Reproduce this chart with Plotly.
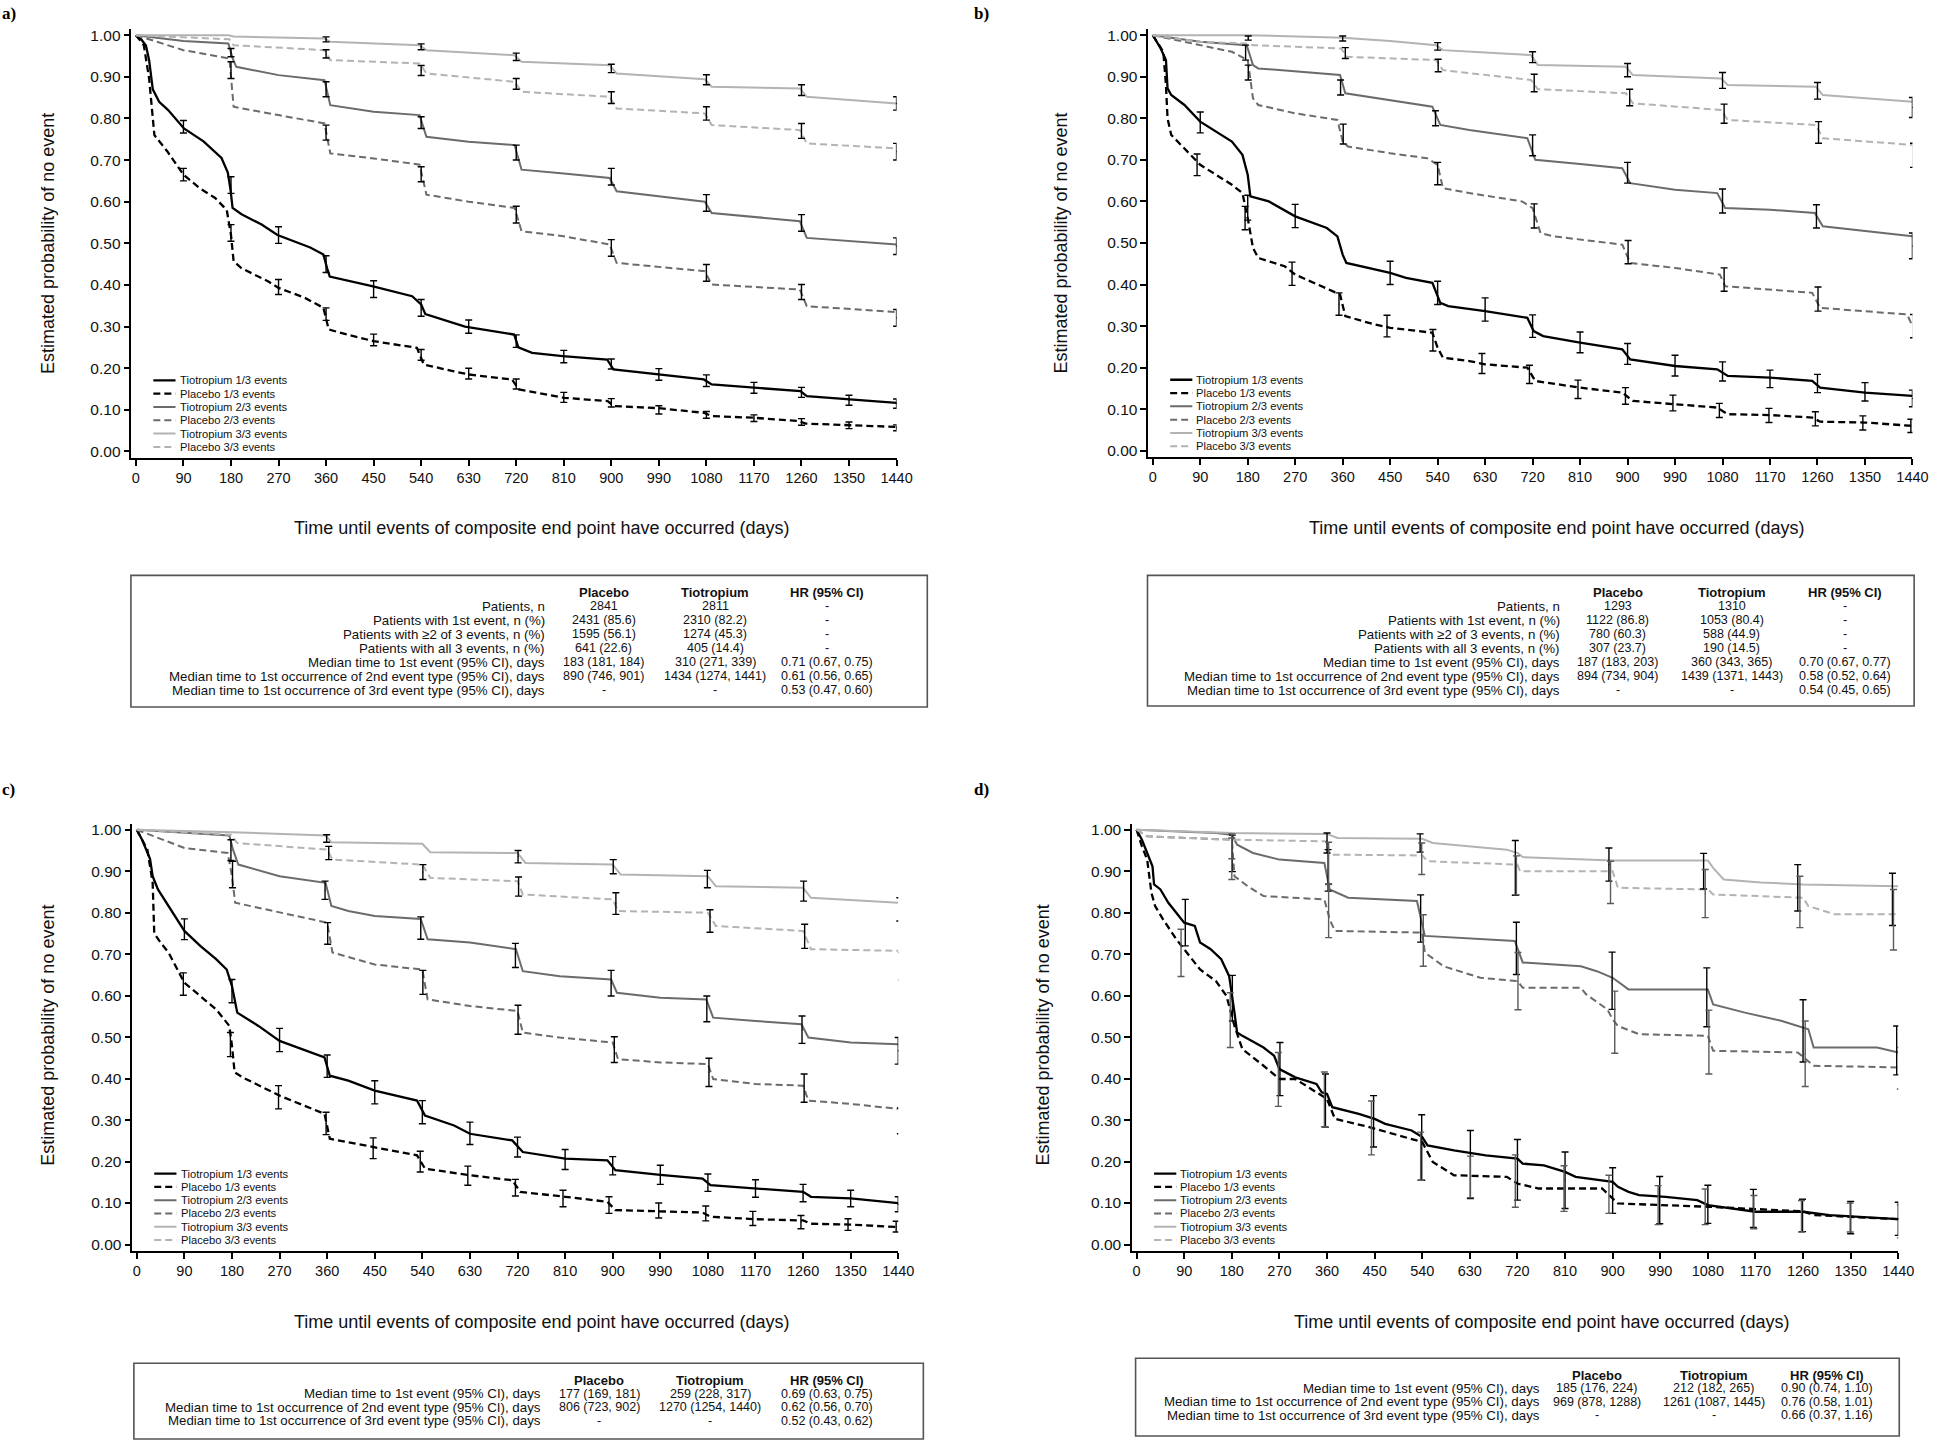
import plotly.graph_objects as go

# ---------------- DATA ----------------
# Kaplan-Meier style knots: (day, probability of no event)
a_tio1 = [(0,1.0),(10,0.99),(19,0.975),(25,0.94),(32,0.87),(44,0.84),(61,0.82),(91,0.776),(128,0.745),(162,0.705),(174,0.67),(179,0.63),(183,0.585),(200,0.57),(238,0.545),(268,0.52),(330,0.49),(355,0.473),(362,0.44),(367,0.42),(447,0.397),(523,0.373),(540,0.353),(548,0.33),(623,0.30),(716,0.281),(724,0.25),(750,0.237),(808,0.229),(892,0.221),(904,0.197),(990,0.185),(1075,0.173),(1090,0.161),(1170,0.153),(1258,0.145),(1270,0.133),(1350,0.125),(1440,0.117)]
a_pla1 = [(0,1.0),(15,0.976),(25,0.896),(30,0.824),(35,0.76),(45,0.744),(60,0.72),(90,0.665),(120,0.633),(150,0.609),(172,0.58),(180,0.52),(185,0.457),(200,0.44),(250,0.409),(270,0.393),(320,0.369),(355,0.345),(365,0.293),(400,0.281),(450,0.265),(532,0.249),(545,0.209),(600,0.193),(630,0.185),(712,0.173),(725,0.149),(810,0.129),(893,0.121),(905,0.109),(990,0.104),(1075,0.093),(1090,0.085),(1170,0.081),(1255,0.073),(1268,0.067),(1350,0.064),(1440,0.059)]
a_tio2 = [(0,1.0),(90,0.986),(175,0.98),(183,0.945),(190,0.924),(270,0.904),(357,0.892),(368,0.832),(450,0.816),(537,0.808),(550,0.756),(630,0.744),(717,0.736),(730,0.677),(810,0.668),(897,0.657),(910,0.625),(990,0.613),(1077,0.60),(1090,0.573),(1257,0.553),(1270,0.513),(1440,0.497)]
a_pla2 = [(0,1.0),(90,0.964),(177,0.944),(185,0.828),(270,0.808),(357,0.788),(368,0.716),(450,0.704),(537,0.689),(550,0.617),(630,0.60),(717,0.585),(730,0.529),(810,0.517),(897,0.497),(910,0.453),(1077,0.433),(1090,0.401),(1257,0.389),(1270,0.349),(1440,0.335)]
a_tio3 = [(0,1.0),(175,1.0),(185,0.997),(357,0.992),(368,0.984),(450,0.98),(537,0.976),(550,0.964),(717,0.952),(730,0.936),(897,0.928),(910,0.908),(1077,0.894),(1090,0.876),(1257,0.872),(1270,0.852),(1440,0.836)]
a_pla3 = [(0,1.0),(177,0.99),(185,0.976),(357,0.964),(368,0.94),(537,0.932),(550,0.908),(717,0.888),(730,0.864),(897,0.852),(910,0.824),(1077,0.812),(1090,0.784),(1257,0.772),(1270,0.74),(1440,0.728)]

b_tio1 = [(0,1.0),(15,0.968),(25,0.94),(28,0.872),(35,0.856),(60,0.832),(90,0.792),(110,0.776),(150,0.744),(170,0.712),(180,0.664),(185,0.612),(220,0.60),(270,0.564),(330,0.536),(350,0.516),(360,0.472),(367,0.452),(450,0.428),(480,0.416),(530,0.404),(545,0.356),(560,0.348),(630,0.336),(710,0.32),(722,0.288),(740,0.276),(810,0.26),(890,0.244),(905,0.22),(990,0.204),(1070,0.196),(1090,0.18),(1170,0.176),(1250,0.168),(1265,0.152),(1350,0.14),(1440,0.132)]
b_pla1 = [(0,1.0),(20,0.96),(25,0.88),(28,0.80),(35,0.76),(60,0.728),(90,0.688),(150,0.64),(170,0.62),(180,0.56),(190,0.488),(200,0.464),(250,0.444),(270,0.424),(340,0.384),(355,0.376),(365,0.324),(420,0.304),(450,0.296),(530,0.284),(540,0.248),(550,0.224),(600,0.216),(630,0.208),(710,0.20),(725,0.168),(810,0.152),(890,0.14),(910,0.12),(990,0.112),(1070,0.104),(1090,0.088),(1170,0.086),(1250,0.08),(1265,0.07),(1350,0.068),(1440,0.06)]
b_tio2 = [(0,1.0),(90,0.984),(178,0.976),(190,0.928),(200,0.92),(270,0.912),(355,0.904),(365,0.86),(450,0.844),(530,0.828),(545,0.784),(600,0.772),(710,0.752),(725,0.70),(810,0.69),(890,0.68),(905,0.644),(990,0.628),(1070,0.62),(1085,0.584),(1170,0.58),(1255,0.572),(1270,0.54),(1350,0.528),(1440,0.516)]
b_pla2 = [(0,1.0),(90,0.976),(150,0.96),(180,0.94),(190,0.848),(200,0.832),(270,0.812),(350,0.796),(360,0.744),(370,0.732),(450,0.716),(520,0.704),(540,0.688),(550,0.632),(600,0.62),(700,0.60),(720,0.584),(735,0.524),(760,0.516),(890,0.496),(905,0.452),(990,0.44),(1075,0.424),(1085,0.396),(1170,0.388),(1250,0.38),(1265,0.344),(1350,0.336),(1430,0.328),(1440,0.30)]
b_tio3 = [(0,1.0),(180,1.0),(360,0.994),(450,0.986),(537,0.976),(550,0.964),(630,0.958),(717,0.952),(730,0.928),(897,0.924),(910,0.904),(1077,0.896),(1090,0.88),(1257,0.876),(1270,0.856),(1440,0.84)]
b_pla3 = [(0,1.0),(90,0.984),(177,0.98),(190,0.976),(357,0.968),(368,0.948),(537,0.94),(550,0.916),(717,0.892),(730,0.87),(897,0.86),(910,0.836),(1077,0.82),(1090,0.796),(1257,0.784),(1270,0.752),(1440,0.736)]

c_tio1 = [(0,1.0),(10,0.976),(25,0.93),(30,0.888),(40,0.856),(60,0.816),(90,0.756),(120,0.72),(150,0.688),(170,0.663),(180,0.623),(190,0.559),(230,0.527),(270,0.491),(330,0.463),(355,0.451),(365,0.407),(400,0.395),(450,0.371),(530,0.347),(545,0.311),(600,0.287),(630,0.267),(710,0.251),(730,0.223),(810,0.207),(890,0.203),(905,0.179),(990,0.168),(1070,0.159),(1085,0.143),(1170,0.135),(1260,0.127),(1275,0.115),(1350,0.111),(1440,0.10)]
c_pla1 = [(0,1.0),(20,0.952),(30,0.872),(33,0.75),(45,0.728),(60,0.704),(90,0.631),(120,0.60),(150,0.567),(175,0.527),(180,0.479),(185,0.415),(200,0.403),(270,0.359),(355,0.315),(365,0.255),(450,0.235),(530,0.215),(545,0.183),(630,0.167),(710,0.155),(725,0.127),(810,0.115),(890,0.103),(905,0.083),(990,0.08),(1070,0.077),(1085,0.067),(1170,0.061),(1260,0.058),(1275,0.05),(1350,0.048),(1440,0.042)]
c_tio2 = [(0,1.0),(90,0.992),(175,0.986),(182,0.952),(192,0.916),(270,0.888),(357,0.872),(368,0.816),(400,0.804),(450,0.792),(537,0.785),(550,0.736),(630,0.728),(717,0.712),(730,0.659),(800,0.647),(897,0.639),(908,0.607),(990,0.595),(1077,0.591),(1090,0.547),(1170,0.539),(1257,0.531),(1270,0.499),(1350,0.487),(1440,0.483)]
c_pla2 = [(0,1.0),(90,0.956),(172,0.944),(180,0.888),(186,0.824),(270,0.80),(360,0.776),(370,0.704),(450,0.675),(540,0.663),(550,0.591),(630,0.575),(720,0.563),(730,0.511),(800,0.499),(900,0.487),(910,0.447),(990,0.439),(1080,0.435),(1090,0.399),(1170,0.387),(1260,0.383),(1270,0.347),(1350,0.339),(1440,0.327)]
c_tio3 = [(0,1.0),(180,0.994),(357,0.986),(368,0.97),(540,0.966),(555,0.946),(720,0.944),(735,0.92),(900,0.916),(915,0.892),(1080,0.888),(1095,0.864),(1260,0.86),(1275,0.836),(1440,0.824)]
c_pla3 = [(0,1.0),(178,0.988),(190,0.968),(360,0.952),(370,0.928),(540,0.916),(555,0.884),(720,0.876),(730,0.844),(900,0.832),(910,0.804),(1080,0.80),(1095,0.768),(1260,0.756),(1275,0.712),(1440,0.708)]

d_tio1 = [(0,1.0),(10,0.976),(20,0.944),(30,0.912),(33,0.868),(45,0.856),(60,0.824),(75,0.80),(90,0.776),(110,0.768),(120,0.728),(140,0.712),(160,0.688),(175,0.647),(180,0.607),(185,0.559),(190,0.511),(200,0.503),(240,0.475),(260,0.455),(270,0.423),(300,0.403),(340,0.387),(350,0.367),(360,0.363),(370,0.331),(420,0.315),(450,0.303),(470,0.291),(520,0.275),(540,0.259),(550,0.239),(600,0.227),(660,0.215),(720,0.207),(730,0.195),(770,0.191),(810,0.175),(830,0.163),(900,0.151),(910,0.139),(930,0.127),(950,0.119),(1000,0.115),(1060,0.107),(1080,0.095),(1170,0.079),(1260,0.079),(1310,0.071),(1400,0.064),(1440,0.061)]
d_pla1 = [(0,1.0),(10,0.96),(20,0.928),(28,0.848),(35,0.816),(50,0.784),(75,0.736),(90,0.712),(120,0.663),(150,0.635),(170,0.599),(185,0.527),(200,0.471),(240,0.431),(270,0.399),(300,0.399),(360,0.351),(375,0.303),(440,0.283),(540,0.247),(560,0.199),(600,0.167),(700,0.163),(720,0.147),(760,0.135),(880,0.135),(900,0.111),(910,0.099),(1080,0.091),(1260,0.08),(1280,0.071),(1440,0.061)]
d_tio2 = [(0,1.0),(150,0.992),(180,0.988),(190,0.964),(220,0.944),(270,0.928),(355,0.92),(365,0.856),(400,0.836),(530,0.828),(545,0.744),(715,0.732),(730,0.68),(840,0.671),(870,0.659),(900,0.643),(930,0.615),(1080,0.615),(1090,0.579),(1150,0.559),(1220,0.539),(1270,0.519),(1280,0.475),(1400,0.475),(1440,0.463)]
d_pla2 = [(0,1.0),(20,0.984),(180,0.976),(185,0.888),(210,0.864),(240,0.84),(355,0.832),(365,0.784),(375,0.756),(540,0.752),(545,0.704),(580,0.671),(650,0.643),(720,0.635),(730,0.619),(840,0.619),(850,0.603),(890,0.567),(900,0.543),(910,0.527),(950,0.507),(1080,0.503),(1090,0.467),(1250,0.463),(1280,0.431),(1440,0.427)]
d_tio3 = [(0,1.0),(180,0.992),(360,0.99),(380,0.98),(540,0.978),(560,0.968),(700,0.952),(720,0.944),(730,0.934),(900,0.926),(1080,0.926),(1090,0.908),(1110,0.88),(1180,0.873),(1260,0.868),(1440,0.864)]
d_pla3 = [(0,1.0),(20,0.984),(180,0.976),(360,0.972),(365,0.94),(540,0.938),(550,0.924),(720,0.916),(725,0.90),(900,0.90),(910,0.86),(1080,0.856),(1090,0.844),(1260,0.836),(1270,0.816),(1300,0.804),(1320,0.796),(1440,0.796)]

# Error bars: (day, centre, half-width of 95% CI)
a_tio1_eb = [(90,.78,.015),(180,.64,.02),(270,.52,.02),(360,.45,.02),(450,.39,.02),(540,.345,.02),(630,.30,.016),(720,.265,.015),(810,.228,.015),(900,.21,.012),(990,.185,.014),(1080,.17,.014),(1170,.153,.013),(1260,.142,.012),(1350,.123,.012),(1440,.115,.011)]
a_pla1_eb = [(90,.665,.015),(180,.525,.02),(270,.395,.018),(360,.33,.015),(450,.268,.014),(540,.232,.013),(630,.187,.013),(720,.162,.012),(810,.13,.012),(900,.117,.01),(990,.1,.01),(1080,.088,.008),(1170,.08,.008),(1260,.071,.008),(1350,.063,.008),(1440,.057,.007)]
a_tio2_eb = [(180,.958,.01),(360,.87,.018),(540,.79,.014),(720,.718,.018),(900,.66,.02),(1080,.597,.02),(1260,.549,.02),(1440,.493,.02)]
a_pla2_eb = [(180,.916,.02),(360,.766,.018),(540,.666,.018),(720,.569,.02),(900,.489,.02),(1080,.429,.02),(1260,.383,.018),(1440,.321,.02)]
a_tio3_eb = [(360,.99,.006),(540,.972,.007),(720,.948,.009),(900,.92,.01),(1080,.893,.012),(1260,.868,.013),(1440,.836,.016)]
a_pla3_eb = [(360,.955,.01),(540,.915,.012),(720,.883,.013),(900,.85,.014),(1080,.812,.016),(1260,.77,.018),(1440,.72,.02)]

b_tio1_eb = [(90,.79,.025),(180,.585,.03),(270,.565,.028),(450,.428,.028),(540,.38,.028),(630,.34,.028),(720,.30,.027),(810,.261,.025),(900,.233,.025),(990,.205,.025),(1080,.191,.023),(1170,.173,.021),(1260,.162,.022),(1350,.142,.022),(1440,.126,.02)]
b_pla1_eb = [(84,.688,.026),(175,.56,.028),(264,.426,.028),(353,.353,.027),(444,.30,.026),(531,.266,.026),(624,.21,.024),(714,.184,.022),(806,.148,.022),(896,.132,.02),(986,.115,.019),(1074,.097,.017),(1168,.085,.017),(1256,.077,.017),(1346,.067,.017),(1437,.06,.016)]
b_tio2_eb = [(176,.958,.018),(356,.874,.018),(536,.80,.018),(720,.735,.025),(900,.669,.025),(1080,.601,.029),(1258,.564,.028),(1440,.493,.031)]
b_pla2_eb = [(181,.91,.018),(361,.762,.024),(540,.667,.027),(723,.565,.029),(901,.478,.028),(1083,.412,.028),(1261,.365,.029),(1442,.30,.028)]
b_tio3_eb = [(181,.993,.005),(360,.992,.006),(540,.973,.009),(720,.947,.013),(900,.916,.016),(1080,.891,.019),(1260,.866,.02),(1440,.826,.024)]
b_pla3_eb = [(365,.957,.013),(541,.927,.015),(723,.885,.021),(904,.85,.02),(1083,.811,.023),(1262,.766,.026),(1442,.711,.029)]

c_tio1_eb = [(90,.76,.025),(180,.611,.028),(270,.493,.028),(360,.43,.027),(450,.367,.028),(540,.319,.028),(630,.268,.027),(720,.235,.024),(810,.205,.024),(900,.19,.022),(990,.168,.023),(1080,.149,.021),(1170,.135,.021),(1260,.124,.021),(1350,.111,.02),(1440,.097,.018)]
c_pla1_eb = [(88,.628,.027),(177,.482,.029),(268,.355,.028),(358,.292,.027),(447,.232,.025),(536,.2,.025),(626,.166,.023),(716,.137,.02),(806,.111,.02),(893,.095,.02),(987,.082,.018),(1076,.075,.018),(1165,.063,.017),(1256,.054,.016),(1345,.048,.014),(1436,.043,.013)]
c_tio2_eb = [(178,.951,.025),(356,.854,.022),(537,.763,.027),(716,.697,.029),(897,.63,.031),(1078,.568,.031),(1258,.518,.033),(1440,.467,.032)]
c_pla2_eb = [(181,.892,.032),(361,.75,.026),(541,.632,.029),(721,.542,.035),(903,.47,.031),(1082,.415,.034),(1262,.377,.034),(1444,.298,.031)]
c_tio3_eb = [(359,.979,.009),(721,.935,.015),(901,.911,.017),(1079,.881,.021),(1261,.852,.024),(1443,.808,.028)]
c_pla3_eb = [(363,.944,.016),(541,.898,.018),(722,.863,.023),(906,.822,.026),(1084,.78,.027),(1263,.743,.029),(1446,.671,.033)]

d_tio1_eb = [(92,.776,.056),(181,.594,.055),(271,.423,.064),(357,.347,.064),(448,.297,.062),(539,.234,.079),(631,.193,.082),(720,.18,.073),(810,.155,.068),(900,.13,.055),(989,.107,.057),(1080,.097,.046),(1166,.087,.046),(1259,.07,.039),(1350,.065,.039),(1440,.062,.04)]
d_pla1_eb = [(84,.703,.057),(177,.541,.066),(268,.398,.065),(355,.35,.066),(444,.281,.065),(537,.213,.058),(631,.163,.05),(716,.153,.063),(808,.135,.055),(893,.121,.046),(986,.095,.047),(1075,.091,.043),(1167,.078,.04),(1257,.068,.038),(1349,.065,.035),(1444,.056,.04)]
d_tio2_eb = [(181,.943,.044),(362,.902,.05),(537,.786,.057),(718,.714,.063),(899,.636,.069),(1078,.596,.071),(1260,.515,.075),(1437,.468,.059)]
d_pla2_eb = [(180,.93,.05),(363,.804,.064),(542,.733,.062),(721,.635,.069),(904,.536,.075),(1082,.488,.077),(1264,.46,.079),(1444,.425,.05)]
d_tio3_eb = [(360,.968,.024),(536,.968,.022),(716,.908,.066),(893,.916,.04),(1072,.9,.043),(1250,.86,.056),(1429,.832,.063)]
d_pla3_eb = [(180,.96,.03),(363,.92,.05),(539,.93,.038),(718,.89,.047),(896,.873,.051),(1075,.846,.058),(1254,.826,.062),(1431,.783,.073)]

series_names = ["Tiotropium 1/3 events", "Placebo 1/3 events", "Tiotropium 2/3 events",
                "Placebo 2/3 events", "Tiotropium 3/3 events", "Placebo 3/3 events"]
x_ticks = [0, 90, 180, 270, 360, 450, 540, 630, 720, 810, 900, 990, 1080, 1170, 1260, 1350, 1440]
y_ticks = [0.0, 0.1, 0.2, 0.3, 0.4, 0.5, 0.6, 0.7, 0.8, 0.9, 1.0]
panel_labels = ["a)", "b)", "c)", "d)"]
x_title = "Time until events of composite end point have occurred (days)"
y_title = "Estimated probability of no event"

# Tables
col_headers = ["Placebo", "Tiotropium", "HR (95% CI)"]
ab_row_labels = ["Patients, n", "Patients with 1st event, n (%)", "Patients with ≥2 of 3 events, n (%)",
                 "Patients with all 3 events, n (%)", "Median time to 1st event (95% CI), days",
                 "Median time to 1st occurrence of 2nd event type (95% CI), days",
                 "Median time to 1st occurrence of 3rd event type (95% CI), days"]
cd_row_labels = ["Median time to 1st event (95% CI), days",
                 "Median time to 1st occurrence of 2nd event type (95% CI), days",
                 "Median time to 1st occurrence of 3rd event type (95% CI), days"]
a_placebo = ["2841", "2431 (85.6)", "1595 (56.1)", "641 (22.6)", "183 (181, 184)", "890 (746, 901)", "-"]
a_tiotropium = ["2811", "2310 (82.2)", "1274 (45.3)", "405 (14.4)", "310 (271, 339)", "1434 (1274, 1441)", "-"]
a_hr = ["-", "-", "-", "-", "0.71 (0.67, 0.75)", "0.61 (0.56, 0.65)", "0.53 (0.47, 0.60)"]
b_placebo = ["1293", "1122 (86.8)", "780 (60.3)", "307 (23.7)", "187 (183, 203)", "894 (734, 904)", "-"]
b_tiotropium = ["1310", "1053 (80.4)", "588 (44.9)", "190 (14.5)", "360 (343, 365)", "1439 (1371, 1443)", "-"]
b_hr = ["-", "-", "-", "-", "0.70 (0.67, 0.77)", "0.58 (0.52, 0.64)", "0.54 (0.45, 0.65)"]
c_placebo = ["177 (169, 181)", "806 (723, 902)", "-"]
c_tiotropium = ["259 (228, 317)", "1270 (1254, 1440)", "-"]
c_hr = ["0.69 (0.63, 0.75)", "0.62 (0.56, 0.70)", "0.52 (0.43, 0.62)"]
d_placebo = ["185 (176, 224)", "969 (878, 1288)", "-"]
d_tiotropium = ["212 (182, 265)", "1261 (1087, 1445)", "-"]
d_hr = ["0.90 (0.74, 1.10)", "0.76 (0.58, 1.01)", "0.66 (0.37, 1.16)"]

# ---------------- STYLE / LAYOUT ----------------
W, H = 1946, 1443
FONT = "Liberation Sans, Arial, Helvetica, sans-serif"
def px(x): return x / W
def py(y): return 1 - y / H

X_RANGE = [-8.5, 1440]
Y_RANGE = [-0.015, 1.015]

styles = [dict(color="#000000", width=2.3, dash="solid"),
          dict(color="#000000", width=2.3, dash="7px,4px"),
          dict(color="#6b6b6b", width=2.0, dash="solid"),
          dict(color="#6b6b6b", width=2.0, dash="7px,4px"),
          dict(color="#b3b3b3", width=2.0, dash="solid"),
          dict(color="#b3b3b3", width=2.0, dash="7px,4px")]

panels = [
    dict(curves=[a_tio1, a_pla1, a_tio2, a_pla2, a_tio3, a_pla3],
         ebs=[a_tio1_eb, a_pla1_eb, a_tio2_eb, a_pla2_eb, a_tio3_eb, a_pla3_eb],
         xdom=(132.5, 904), ydom=(27, 457), label=(0, 12), ytitle=(49, 242), xtitle=(546, 527),
         table=dict(box=(132, 575, 935, 707), rows=ab_row_labels, cols=[a_placebo, a_tiotropium, a_hr],
                    header_y=592, row_y0=606, dy=14, lab_x=552, col_x=[609, 721, 834])),
    dict(curves=[b_tio1, b_pla1, b_tio2, b_pla2, b_tio3, b_pla3],
         ebs=[b_tio1_eb, b_pla1_eb, b_tio2_eb, b_pla2_eb, b_tio3_eb, b_pla3_eb],
         xdom=(1157.8, 1928.3), ydom=(27, 456.3), label=(980, 12), ytitle=(1070, 242), xtitle=(1570, 527),
         table=dict(box=(1157, 575, 1930, 706), rows=ab_row_labels, cols=[b_placebo, b_tiotropium, b_hr],
                    header_y=592, row_y0=606, dy=14, lab_x=1575, col_x=[1631, 1746, 1860])),
    dict(curves=[c_tio1, c_pla1, c_tio2, c_pla2, c_tio3, c_pla3],
         ebs=[c_tio1_eb, c_pla1_eb, c_tio2_eb, c_pla2_eb, c_tio3_eb, c_pla3_eb],
         xdom=(133.4, 905.7), ydom=(823.8, 1252.2), label=(0, 790), ytitle=(49, 1036), xtitle=(546, 1324),
         table=dict(box=(135, 1365, 931, 1441), rows=cd_row_labels, cols=[c_placebo, c_tiotropium, c_hr],
                    header_y=1382, row_y0=1395.5, dy=13.5, lab_x=548, col_x=[604, 716, 834])),
    dict(curves=[d_tio1, d_pla1, d_tio2, d_pla2, d_tio3, d_pla3],
         ebs=[d_tio1_eb, d_pla1_eb, d_tio2_eb, d_pla2_eb, d_tio3_eb, d_pla3_eb],
         xdom=(1141.5, 1914), ydom=(823.8, 1252.2), label=(980, 790), ytitle=(1052, 1036), xtitle=(1555, 1324),
         table=dict(box=(1145, 1360, 1915, 1438), rows=cd_row_labels, cols=[d_placebo, d_tiotropium, d_hr],
                    header_y=1377, row_y0=1390, dy=13.5, lab_x=1555, col_x=[1610, 1728, 1842])),
]

fig = go.Figure()
annotations = []
shapes = []
layout_axes = {}

for i, p in enumerate(panels):
    n = "" if i == 0 else str(i + 1)
    xa, ya = "x" + n, "y" + n
    for k, (curve, st) in enumerate(zip(p["curves"], styles)):
        fig.add_trace(go.Scatter(x=[t for t, _ in curve], y=[s for _, s in curve], mode="lines",
                                 line=dict(color=st["color"], width=st["width"], dash=st["dash"]),
                                 xaxis=xa, yaxis=ya, showlegend=False, hoverinfo="skip"))
    for k, eb in enumerate(p["ebs"]):
        ebcol = "#000000"
        if i == 3 and k % 2 == 1:
            ebcol = "#5a5a5a"
        fig.add_trace(go.Scatter(x=[t for t, _, _ in eb], y=[c for _, c, _ in eb], mode="markers",
                                 marker=dict(size=1, color=ebcol),
                                 error_y=dict(type="data", array=[h for _, _, h in eb], visible=True,
                                              color=ebcol, thickness=1.4, width=3.5),
                                 cliponaxis=False, xaxis=xa, yaxis=ya, showlegend=False, hoverinfo="skip"))
    axis_common = dict(showline=True, linecolor="#000000", linewidth=1.6, ticks="outside", ticklen=6,
                       tickwidth=1.5, tickcolor="#000000", showgrid=False, zeroline=False)
    layout_axes["xaxis" + n] = dict(axis_common, domain=[px(p["xdom"][0]), px(p["xdom"][1])],
                                    range=X_RANGE, tickvals=x_ticks, anchor=ya,
                                    tickfont=dict(family=FONT, size=14.5, color="#111111"))
    layout_axes["yaxis" + n] = dict(axis_common, domain=[py(p["ydom"][1]), py(p["ydom"][0])],
                                    range=Y_RANGE, tickvals=y_ticks, tickformat=".2f", anchor=xa,
                                    tickfont=dict(family=FONT, size=15.5, color="#111111"))

    # legend drawn inside the plot area
    for k, (name, st) in enumerate(zip(series_names, styles)):
        yy = 0.171 - k * 0.032
        shapes.append(dict(type="line", xref=xa, yref=ya, x0=33, x1=75, y0=yy, y1=yy,
                           line=dict(color=st["color"], width=st["width"], dash=st["dash"])))
        annotations.append(dict(text=name, xref=xa, yref=ya, x=79, y=yy, xanchor="left", yanchor="middle",
                                showarrow=False, font=dict(family=FONT, size=11.2, color="#111111")))

    # panel label
    annotations.append(dict(text="<b>" + panel_labels[i] + "</b>", xref="paper", yref="paper",
                            x=px(p["label"][0]), y=py(p["label"][1]), xanchor="left", yanchor="middle",
                            showarrow=False, font=dict(family="Liberation Serif, Times New Roman, serif",
                                                       size=17, color="#000000")))
    # axis titles
    annotations.append(dict(text=y_title, xref="paper", yref="paper", x=px(p["ytitle"][0]), y=py(p["ytitle"][1]),
                            textangle=-90, xanchor="center", yanchor="middle", showarrow=False,
                            font=dict(family=FONT, size=18, color="#111111")))
    annotations.append(dict(text=x_title, xref="paper", yref="paper", x=px(p["xtitle"][0]), y=py(p["xtitle"][1]),
                            xanchor="center", yanchor="middle", showarrow=False,
                            font=dict(family=FONT, size=18, color="#111111")))

    # table
    tb = p["table"]
    x0, y0, x1, y1 = tb["box"]
    shapes.append(dict(type="rect", xref="paper", yref="paper", x0=px(x0), x1=px(x1), y0=py(y1), y1=py(y0),
                       line=dict(color="#555555", width=1.6)))
    for cx, hdr in zip(tb["col_x"], col_headers):
        annotations.append(dict(text="<b>" + hdr + "</b>", xref="paper", yref="paper", x=px(cx), y=py(tb["header_y"]),
                                xanchor="center", yanchor="middle", showarrow=False,
                                font=dict(family=FONT, size=13, color="#111111")))
    for r, lab in enumerate(tb["rows"]):
        yy = tb["row_y0"] + r * tb["dy"]
        annotations.append(dict(text=lab, xref="paper", yref="paper", x=px(tb["lab_x"]), y=py(yy),
                                xanchor="right", yanchor="middle", showarrow=False,
                                font=dict(family=FONT, size=13.3, color="#111111")))
        for cx, col in zip(tb["col_x"], tb["cols"]):
            annotations.append(dict(text=col[r], xref="paper", yref="paper", x=px(cx), y=py(yy),
                                    xanchor="center", yanchor="middle", showarrow=False,
                                    font=dict(family=FONT, size=12.5, color="#111111")))

fig.update_layout(width=W, height=H, margin=dict(l=0, r=0, t=0, b=0),
                  paper_bgcolor="#ffffff", plot_bgcolor="#ffffff",
                  annotations=annotations, shapes=shapes, showlegend=False, **layout_axes)

fig.write_html("out.html", config={"displayModeBar": False},
               post_script="document.body.style.margin='0';document.body.style.overflow='hidden';")
